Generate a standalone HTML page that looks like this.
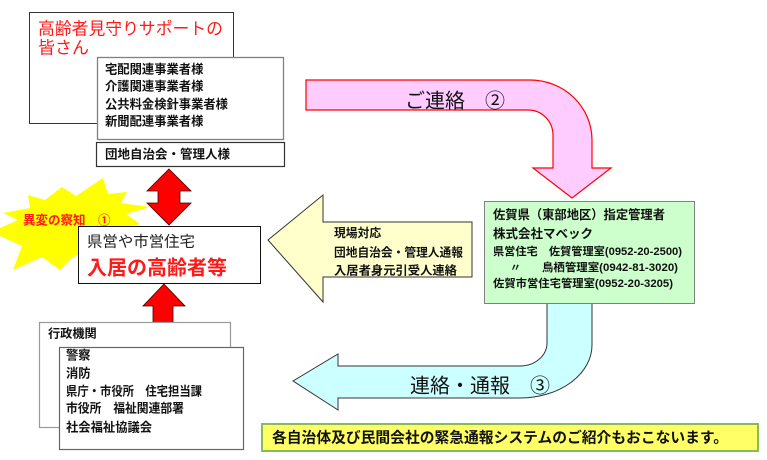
<!DOCTYPE html>
<html><head><meta charset="utf-8"><style>
html,body{margin:0;padding:0;background:#fff;}
svg{display:block;}
text{font-family:"Liberation Sans","Noto Sans CJK JP",sans-serif;}
.b{font-weight:bold;}
.cj{font-family:"Noto Sans CJK JP",sans-serif;}
</style></head><body>
<svg width="767" height="460" viewBox="0 0 767 460" xmlns="http://www.w3.org/2000/svg">
<!-- starburst -->
<polygon fill="#ffff00" points="28,195 45,200 62,187 76,196 103,178 108,194 127,192 121,203 150,207 126,214 140,224 120,230 100,240 80,254 73,257 60,270 42,257 13,270 22,246 0,236 0,228 18,220 3,213 30,208"/>

<!-- box 1 -->
<rect x="29.5" y="12.5" width="204" height="111" fill="#fff" stroke="#333" stroke-width="1"/>
<text x="38" y="34.5" font-size="17" fill="#ff1a1a" textLength="185" lengthAdjust="spacingAndGlyphs">高齢者見守りサポートの</text>
<text x="38" y="53.5" font-size="17" fill="#ff1a1a">皆さん</text>
<rect x="97.5" y="57.5" width="186" height="82" fill="#fff" stroke="#808080" stroke-width="1.3"/>
<text class="b" x="105" y="73.7" font-size="12.3" fill="#111">宅配関連事業者様</text>
<text class="b" x="105" y="90.7" font-size="12.3" fill="#111">介護関連事業者様</text>
<text class="b" x="105" y="108.7" font-size="12.3" fill="#111">公共料金検針事業者様</text>
<text class="b" x="105" y="125.7" font-size="12.3" fill="#111">新聞配連事業者様</text>
<rect x="96.5" y="142.5" width="188" height="24" fill="#fff" stroke="#333" stroke-width="1.2"/>
<text class="b" x="105" y="158.7" font-size="12.3" fill="#111" textLength="125" lengthAdjust="spacingAndGlyphs">団地自治会・管理人様</text>

<!-- red double arrow -->
<path d="M169,169 L191,191 L180,191 L180,203 L191,203 L169,225 L147,203 L158,203 L158,191 L147,191 Z" fill="#ff0000" stroke="#400" stroke-width="0.8"/>

<!-- box 県営 -->
<rect x="78.5" y="226.5" width="182" height="57" fill="#fff" stroke="#111" stroke-width="1"/>
<text x="87" y="246.7" font-size="15" fill="#222" textLength="108" lengthAdjust="spacingAndGlyphs">県営や市営住宅</text>
<text class="b" x="87" y="274.6" font-size="20" fill="#ff1a1a" textLength="140" lengthAdjust="spacingAndGlyphs">入居の高齢者等</text>

<text class="b" x="23" y="224.6" font-size="12.5" fill="#ff1a1a">異変の察知　<tspan class="cj">①</tspan></text>

<!-- up arrow -->
<path d="M164,284 L185,306 L173,306 L173,323 L153,323 L153,306 L143,306 Z" fill="#ff0000" stroke="#400" stroke-width="0.8"/>

<!-- 行政機関 boxes -->
<rect x="39.5" y="322.5" width="191" height="105" fill="#fff" stroke="#999" stroke-width="1.2"/>
<text class="b" x="48" y="337.6" font-size="12.2" fill="#111">行政機関</text>
<rect x="59.5" y="347.5" width="184" height="102" fill="#fff" stroke="#666" stroke-width="1.2"/>
<text class="b" x="66" y="359.7" font-size="12.3" fill="#111">警察</text>
<text class="b" x="66" y="377.7" font-size="12.3" fill="#111">消防</text>
<text class="b" x="66" y="395.7" font-size="12.3" fill="#111" textLength="136" lengthAdjust="spacingAndGlyphs">県庁・市役所　住宅担当課</text>
<text class="b" x="66" y="412.7" font-size="12.3" fill="#111" textLength="118" lengthAdjust="spacingAndGlyphs">市役所　福祉関連部署</text>
<text class="b" x="66" y="431.7" font-size="12.3" fill="#111">社会福祉協議会</text>

<!-- pink arrow -->
<path d="M306,80 L530,80 A62,60 0 0 1 592,140 L592,168 L611,168 L572,198 L533,168 L553,168 L553,135 A25,25 0 0 0 528,110 L306,110 Z" fill="#ffccff" stroke="#ff0000" stroke-width="1.2"/>
<text x="405" y="107.6" font-size="20" fill="#111">ご連絡　<tspan class="cj">②</tspan></text>

<!-- yellow left arrow -->
<path d="M268,240 L323,195 L323,222 L472,222 L472,277 L323,277 L323,302 Z" fill="#ffffcc" stroke="#333" stroke-width="1"/>
<text class="b" x="334" y="237" font-size="11.8" fill="#111">現場対応</text>
<text class="b" x="334" y="256.5" font-size="11.8" fill="#111" textLength="129" lengthAdjust="spacingAndGlyphs">団地自治会・管理人通報</text>
<text class="b" x="334" y="274.5" font-size="11.8" fill="#111" textLength="123" lengthAdjust="spacingAndGlyphs">入居者身元引受人連絡</text>

<!-- cyan arrow -->
<path d="M547,303 L547,343 A27,23 0 0 1 520,366 L338,366 L338,354 L293,381 L338,410 L338,398 L520,398 A72,53 0 0 0 592,345 L592,303 Z" fill="#ccffff" stroke="#333" stroke-width="1"/>
<text x="410" y="392.6" font-size="20" fill="#111">連絡・通報　<tspan class="cj">③</tspan></text>

<!-- green box -->
<rect x="484.5" y="201.5" width="210" height="102" fill="#ccffcc" stroke="#808080" stroke-width="1"/>
<text class="b" x="493" y="218.8" font-size="12.5" fill="#111" textLength="172" lengthAdjust="spacingAndGlyphs">佐賀県（東部地区）指定管理者</text>
<text class="b" x="493" y="237.8" font-size="12.5" fill="#111">株式会社マベック</text>
<text class="b" x="493" y="255" font-size="11" fill="#111" textLength="189" lengthAdjust="spacingAndGlyphs">県営住宅　佐賀管理室(0952-20-2500)</text>
<text class="b" x="510" y="271" font-size="11" fill="#111">〃</text>
<text class="b" x="542" y="271" font-size="11" fill="#111" textLength="136" lengthAdjust="spacingAndGlyphs">鳥栖管理室(0942-81-3020)</text>
<text class="b" x="493" y="287" font-size="11" fill="#111" textLength="180" lengthAdjust="spacingAndGlyphs">佐賀市営住宅管理室(0952-20-3205)</text>

<!-- bottom banner -->
<rect x="262" y="424" width="496" height="27" fill="#ffff66" stroke="#88bb55" stroke-width="2"/>
<text class="b" x="272" y="442.6" font-size="14.7" fill="#111" textLength="456" lengthAdjust="spacingAndGlyphs">各自治体及び民間会社の緊急通報システムのご紹介もおこないます。</text>
</svg>
</body></html>
